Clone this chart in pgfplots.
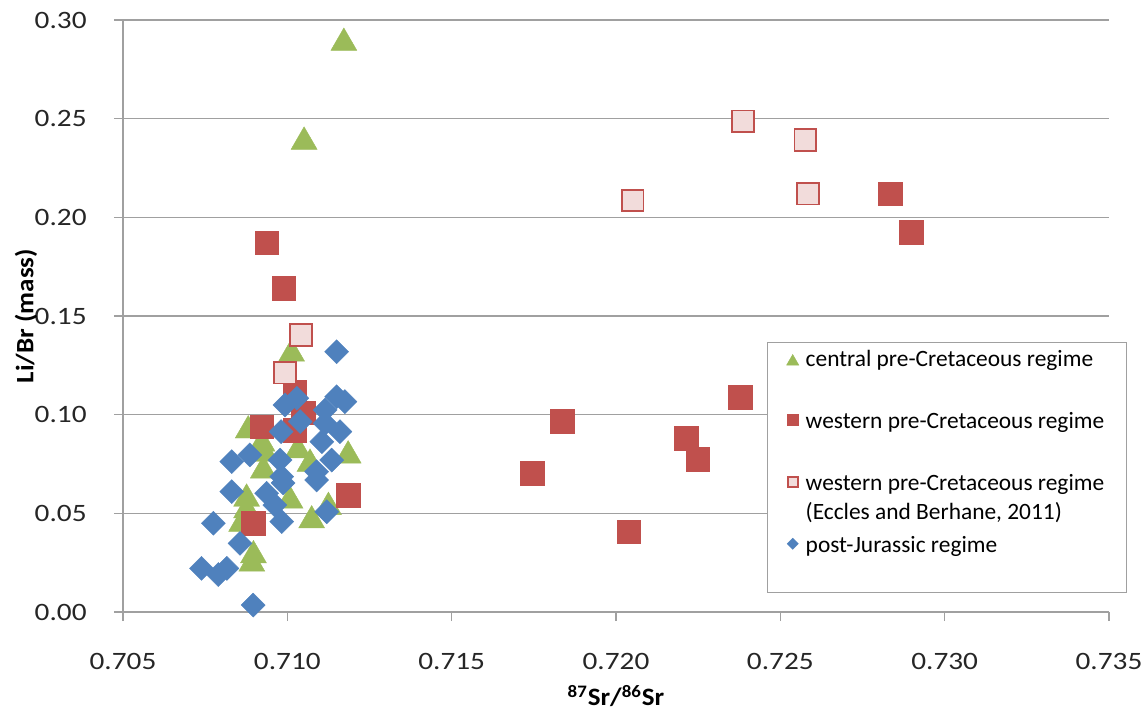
\documentclass[border=0pt]{standalone}
\usepackage{fontspec}
\setmainfont{Carlito}
\newfontfamily\tickfam{Carlito}[FakeStretch=1.17]
\newfontfamily\labfam{Carlito}[FakeStretch=1.08]
\usepackage{pgfplots}
\usepackage{pgfplotstable}
\pgfplotsset{compat=1.18}
\definecolor{cgreen}{HTML}{9BBB59}
\definecolor{cred}{HTML}{C0504D}
\definecolor{cpink}{HTML}{F2DCDB}
\definecolor{cblue}{HTML}{4F81BD}
\definecolor{gridgray}{HTML}{A0A0A0}
\newcommand\tickfont{\tickfam\fontsize{12.5bp}{15bp}\selectfont}
\newcommand\legfont{\fontsize{11.7bp}{14.5bp}\selectfont}
\newcommand\labfont{\labfam\fontsize{12.5bp}{15bp}\selectfont\bfseries}

\pgfplotstableread{
x y
0.71172 0.2903
0.71051 0.2402
0.71013 0.1328
0.70881 0.0939
0.70923 0.0872
0.70932 0.0821
0.71032 0.0838
0.71069 0.0770
0.71185 0.0812
0.70927 0.0736
0.70876 0.0593
0.70876 0.0534
0.70861 0.0466
0.71008 0.0584
0.71074 0.0483
0.71125 0.0551
0.70892 0.0264
0.70897 0.0306
}\central

\pgfplotstableread{
x y
0.70937 0.1872
0.70989 0.1642
0.71023 0.1117
0.71048 0.1009
0.70922 0.0939
0.71023 0.0922
0.71186 0.0593
0.70896 0.0450
0.72834 0.2120
0.72898 0.1924
0.72378 0.1088
0.71837 0.0966
0.72214 0.0880
0.72249 0.0774
0.71745 0.0703
0.72039 0.0407
}\western

\pgfplotstableread{
x y
0.72386 0.2487
0.72576 0.2392
0.72584 0.2120
0.72051 0.2085
0.71041 0.1404
0.70993 0.1213
}\eccles

\pgfplotstableread{
x y
0.71150 0.1319
0.70993 0.1049
0.71029 0.1083
0.71039 0.0965
0.70981 0.0914
0.71150 0.1091
0.71175 0.1066
0.71115 0.1024
0.71115 0.0956
0.71160 0.0914
0.71105 0.0863
0.70831 0.0762
0.70886 0.0796
0.70978 0.0770
0.70983 0.0686
0.71135 0.0770
0.71089 0.0711
0.70831 0.0610
0.70937 0.0602
0.70987 0.0654
0.70962 0.0542
0.70983 0.0458
0.70775 0.0450
0.70856 0.0348
0.70739 0.0221
0.70790 0.0190
0.70816 0.0221
0.71120 0.0508
0.70896 0.0035
0.71089 0.0669
}\postjur

\begin{document}
\begin{tikzpicture}
\begin{axis}[
  at={(0,0)}, anchor=south west,
  scale only axis, width=493bp, height=296bp,
  xmin=0.705, xmax=0.735, ymin=0, ymax=0.30,
  xtick={0.705,0.710,0.715,0.720,0.725,0.730,0.735},
  ytick={0,0.05,0.10,0.15,0.20,0.25,0.30},
  xticklabels={0.705,0.710,0.715,0.720,0.725,0.730,0.735},
  yticklabels={0.00,0.05,0.10,0.15,0.20,0.25,0.30},
  axis x line*=bottom, axis y line*=left,
  axis line style={draw=gridgray, line width=0.75bp, -},
  tick align=outside, major tick length=4.5bp,
  tick style={draw=gridgray, line width=0.75bp},
  xtick pos=bottom, ytick pos=left,
  ymajorgrids, grid style={draw=gridgray, line width=0.75bp},
  xticklabel style={font=\tickfont, text=black!85, anchor=center, inner sep=0pt, yshift=-20bp},
  yticklabel style={font=\tickfont, text=black!85, anchor=east, inner sep=0pt, xshift=-13.5bp},
  every axis x label/.style={at={(axis description cs:0.5,-0.1419)}, anchor=center, font=\labfont},
  every axis y label/.style={at={(axis description cs:-0.0984,0.5)}, rotate=90, anchor=center, font=\labfont},
  xlabel={\textsuperscript{87}Sr/\textsuperscript{86}Sr},
  ylabel={Li/Br (mass)},
  clip=false,
  legend style={at={(axis description cs:0.6531,0.4561)}, anchor=north west,
    draw=gridgray, line width=0.75bp, fill=white,
    inner xsep=0pt, inner ysep=3bp, row sep=5bp, column sep=0pt,
    nodes={inner sep=0pt, text height=9bp, text depth=17bp, font=\legfont},
    cells={anchor=base west}},
  legend image code/.code={
    \path[draw=none] (0bp,4.5bp) -- (19bp,4.5bp);
    \path[#1, draw=none, every mark/.append style={scale=0.47}] plot coordinates {(12.5bp,4.5bp)};
  },
]
\addplot[only marks, mark=triangle*, mark size=7.5bp,
  mark options={fill=cgreen, draw=cgreen, line width=0.2bp, yshift=-1.9bp}]
  table {\central};
\addlegendentry{\makebox[160.5bp][l]{central pre-Cretaceous regime}}
\addplot[only marks, mark=square*, mark size=5.9bp,
  mark options={fill=cred, draw=cred, line width=0.2bp}]
  table {\western};
\addlegendentry{\makebox[160.5bp][l]{western pre-Cretaceous regime}}
\addplot[only marks, mark=square*, mark size=5.4bp,
  mark options={fill=cpink, draw=cred, line width=0.9bp}]
  table {\eccles};
\addlegendentry{\parbox[t]{160.5bp}{western pre-Cretaceous regime\\(Eccles and Berhane, 2011)}}
\addplot[only marks, mark=square*, mark size=4.25bp,
  mark options={fill=cblue, draw=cblue, line width=0.2bp, rotate=45}]
  table {\postjur};
\addlegendentry{\makebox[160.5bp][l]{post-Jurassic regime}}
\end{axis}
\pgfresetboundingbox
\path[use as bounding box] (-61.5bp,-49.5bp) rectangle (512.5bp,306bp);
\end{tikzpicture}
\end{document}
